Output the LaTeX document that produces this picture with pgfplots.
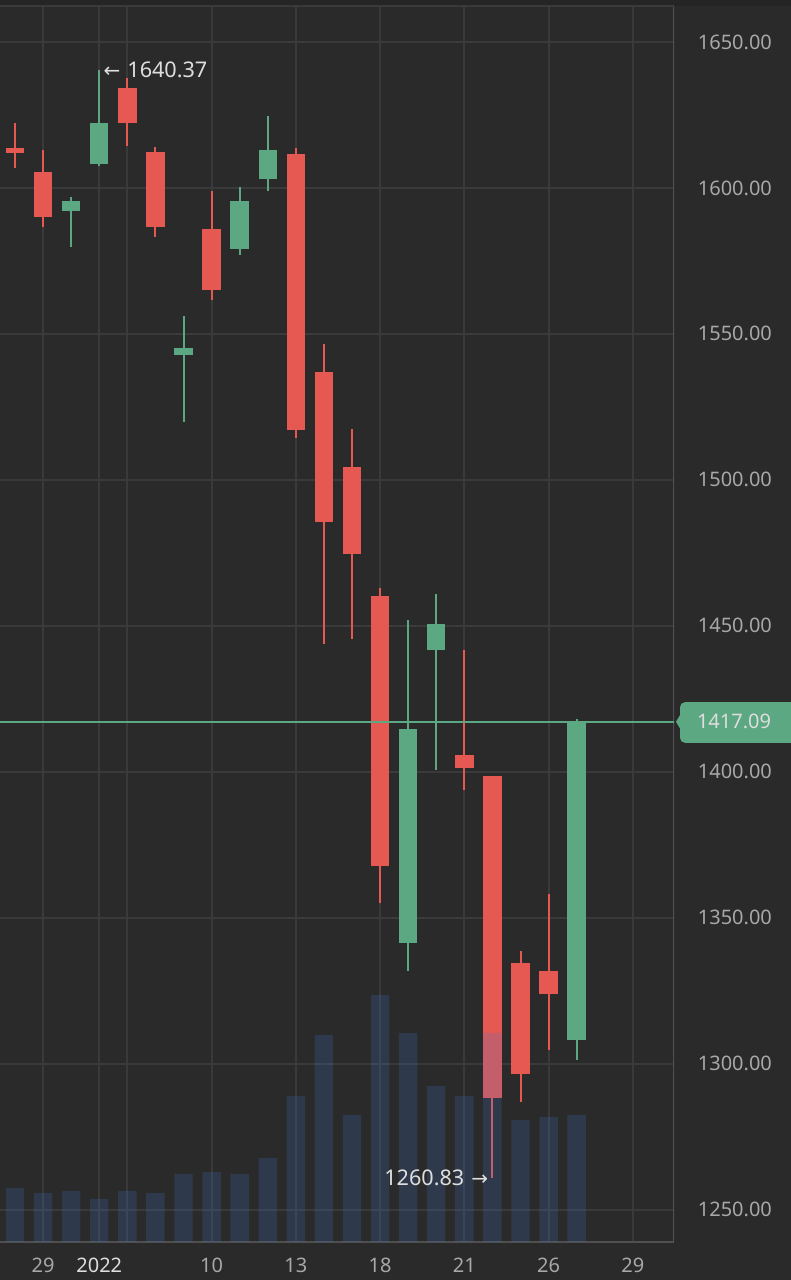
\documentclass[border=0pt]{standalone}
\usepackage{pgfplots}
\usepackage{pgfplotstable}
\pgfplotsset{compat=1.18}
\usepackage{fontspec}
\setmainfont{Noto Sans}
\newfontfamily\arrowfont{DejaVu Sans}

\definecolor{bgc}{HTML}{2A2A2A}
\definecolor{topc}{HTML}{252525}
\definecolor{gridc}{HTML}{3A3A3A}
\definecolor{axc}{HTML}{505050}
\definecolor{cred}{HTML}{E65852}
\definecolor{cgreen}{HTML}{5CA882}
\definecolor{volc}{HTML}{3E7ACF}
\definecolor{tickc}{HTML}{A8A8A8}
\definecolor{annc}{HTML}{DEDEDE}

% k open high low close
\pgfplotstableread{
k o h l c
0 1613.6 1622.3 1606.7 1612.1
1 1605.4 1613.0 1586.5 1589.9
4 1634.3 1637.6 1614.4 1622.3
5 1612.2 1614.1 1583.3 1586.5
7 1586.0 1599.0 1561.6 1565.0
10 1611.5 1613.6 1514.3 1517.0
11 1536.8 1546.4 1443.7 1485.7
12 1504.3 1517.4 1445.4 1474.7
13 1460.2 1463.0 1355.0 1367.6
16 1405.6 1441.6 1393.9 1401.4
17 1398.4 1398.6 1260.83 1288.3
18 1334.4 1338.5 1286.7 1296.5
19 1331.7 1358.0 1304.5 1323.9
}\redtab

\pgfplotstableread{
k o h l c
2 1592.1 1597.0 1579.8 1595.6
3 1608.2 1640.37 1607.5 1622.3
6 1542.9 1556.1 1519.9 1545.2
8 1579.0 1600.2 1577.0 1595.5
9 1603.0 1624.6 1599.0 1613.0
14 1341.3 1451.9 1331.7 1414.5
15 1441.6 1460.8 1400.7 1450.5
20 1308.2 1417.9 1301.3 1417.09
}\greentab

\pgfplotstableread{
k v
0 54
1 49
2 51
3 43
4 51
5 49
6 68
7 70
8 68
9 84
10 146
11 207
12 127
13 247
14 209
15 156
16 146
17 209
18 122
19 125
20 127
}\voltab

\pgfplotsset{
  wick/.style={only marks, mark=*, mark size=0pt, mark options={draw=none, fill=none}, forget plot,
    error bars/.cd, y dir=both, y explicit, error mark=none,
    error bar style={line width=1pt, #1}},
  body/.style={only marks, mark=*, mark size=0pt, mark options={draw=none, fill=none}, forget plot,
    error bars/.cd, y dir=both, y explicit, error mark=none,
    error bar style={line width=9.2pt, #1}},
}

\begin{document}
\begin{tikzpicture}
\path[use as bounding box, fill=bgc] (0,0) rectangle (395.5pt,640pt);
\fill[topc] (0,637pt) rectangle (395.5pt,640pt);

\begin{axis}[
  at={(0pt,19pt)}, anchor=south west, scale only axis,
  width=337pt, height=618pt,
  xmin=-0.534, xmax=23.465, ymin=1238.87, ymax=1662.33,
  axis line style={draw=none},
  major tick length=0pt,
  xtick={1,3,4,7,10,13,16,19,22},
  xticklabels={29,\textcolor{annc}{2022},,10,13,18,21,26,29},
  ytick={1250,1300,...,1650},
  yticklabels={1250.00,1300.00,1350.00,1400.00,1450.00,1500.00,1550.00,1600.00,1650.00},
  yticklabel pos=right,
  grid=major, major grid style={gridc, line width=1pt},
  ticklabel style={font=\fontsize{10}{12}\selectfont, tickc, inner sep=0pt},
  yticklabel style={anchor=west, xshift=11.75pt},
  xticklabel style={anchor=north, yshift=-8pt},
]
\draw[axc, line width=1pt] (rel axis cs:0,0) -- (rel axis cs:1,0) -- (rel axis cs:1,1);
\draw[gridc, line width=0.8pt] (rel axis cs:0,1) -- (rel axis cs:1,1);

\addplot[cred, wick=cred] table[x=k, y expr=(\thisrow{h}+\thisrow{l})/2, y error expr=(\thisrow{h}-\thisrow{l})/2] {\redtab};
\addplot[cred, body=cred] table[x=k, y expr=(\thisrow{o}+\thisrow{c})/2, y error expr=abs(\thisrow{o}-\thisrow{c})/2] {\redtab};
\addplot[cgreen, wick=cgreen] table[x=k, y expr=(\thisrow{h}+\thisrow{l})/2, y error expr=(\thisrow{h}-\thisrow{l})/2] {\greentab};
\addplot[cgreen, body=cgreen] table[x=k, y expr=(\thisrow{o}+\thisrow{c})/2, y error expr=abs(\thisrow{o}-\thisrow{c})/2] {\greentab};

\addplot[cgreen, line width=1pt, forget plot] coordinates {(-1,1417.09) (24,1417.09)};

\coordinate (hi) at (axis cs:3,1640.37);
\coordinate (lo) at (axis cs:17,1260.83);
\coordinate (cp) at (axis cs:23.465,1417.09);
\end{axis}

\begin{axis}[
  at={(0pt,19pt)}, anchor=south west, scale only axis,
  width=337pt, height=618pt,
  xmin=-0.534, xmax=23.465, ymin=0, ymax=1236,
  hide axis,
]
\addplot[ybar, bar width=9.2pt, fill=volc, fill opacity=0.2, draw=none] table[x=k, y=v] {\voltab};
\end{axis}

% annotations
\node[anchor=west, inner sep=0pt, text=annc, font=\fontsize{10.8}{12}\selectfont]
  at ([xshift=2pt]hi) {{\arrowfont\fontsize{10}{12}\selectfont ←}\hspace{3.5pt}1640.37};
\node[anchor=east, inner sep=0pt, text=annc, font=\fontsize{10.8}{12}\selectfont]
  at ([xshift=-2pt]lo) {1260.83\hspace{3.5pt}{\arrowfont\fontsize{10}{12}\selectfont →}};

% price badge
\fill[cgreen] ([xshift=1pt]cp) -- ([xshift=3pt,yshift=3.3pt]cp)
  [rounded corners=2.5pt] -- ([xshift=3pt,yshift=9.8pt]cp) -- ([xshift=70pt,yshift=9.8pt]cp)
  -- ([xshift=70pt,yshift=-10.5pt]cp) -- ([xshift=3pt,yshift=-10.5pt]cp)
  [sharp corners] -- ([xshift=3pt,yshift=-3.3pt]cp) -- cycle;
\node[inner sep=0pt, text=annc, font=\fontsize{10}{12}\selectfont] at ([xshift=30pt]cp) {1417.09};
\end{tikzpicture}
\end{document}
